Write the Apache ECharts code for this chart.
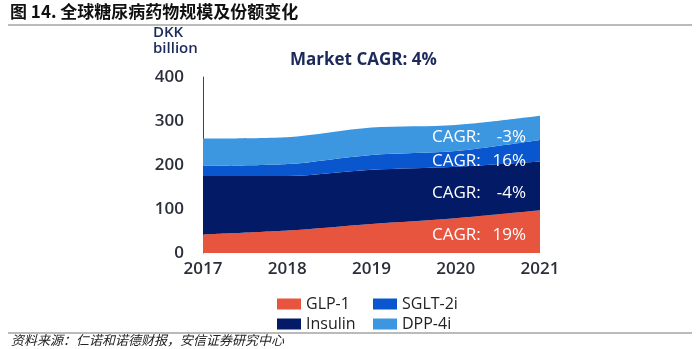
<!DOCTYPE html>
<html><head><meta charset="utf-8">
<script src="https://cdn.jsdelivr.net/npm/echarts@6/dist/echarts.min.js"></script>
<style>html,body{margin:0;padding:0;background:#fff}#c{width:700px;height:349px}</style>
</head><body><div id="c"></div>
<script>
const years = ['2017','2018','2019','2020','2021'];
const glp1 = [42, 51, 66, 79, 97];
const insulin = [133, 124, 123, 117, 111];
const sglt2 = [23, 27, 34, 36, 49];
const dpp4 = [62, 61, 62, 59, 55];
const yTicks = [0, 100, 200, 300, 400];
const cagrValues = ['-3%', '16%', '-4%', '19%'];

const colors = {glp:'#E8553F', ins:'#031A66', sglt:'#0A56CE', dpp:'#3D96E0'};
const chart = echarts.init(document.getElementById('c'), null, {renderer:'canvas'});
const font = '"Open Sans", "Noto Sans", sans-serif';
function area(name, data, color){
  return {name, type:'line', stack:'t', data, symbol:'none', smooth:0.3,
    lineStyle:{width:0}, areaStyle:{color, opacity:1}, itemStyle:{color}};
}
const labelYs = [137, 161, 193, 235];
const cagrGraphics = [];
cagrValues.forEach((v,i)=>{
  cagrGraphics.push({type:'text', x:432, y:labelYs[i], z:100,
    style:{text:'CAGR:', font:'17px "Open Sans"', fill:'#fff', textVerticalAlign:'middle', textAlign:'left'}});
  cagrGraphics.push({type:'text', x:526, y:labelYs[i], z:100,
    style:{text:v, font:'17px "Open Sans"', fill:'#fff', textVerticalAlign:'middle', textAlign:'right'}});
});
chart.setOption({
  animation:false,
  grid:{left:203, right:160, top:77, bottom:96},
  xAxis:{type:'category', data:years, boundaryGap:false,
    axisLine:{show:false}, axisTick:{show:false},
    axisLabel:{color:'#2a2f3a', fontSize:17, fontFamily:font, margin:8, fontWeight:600}},
  yAxis:{type:'value', min:yTicks[0], max:yTicks[yTicks.length-1], interval:100,
    axisLine:{show:true, lineStyle:{color:'#444', width:1}}, axisTick:{show:false},
    splitLine:{show:false},
    axisLabel:{color:'#2a2f3a', fontSize:17, fontFamily:font, margin:19, fontWeight:600}},
  legend:[
    {data:['GLP-1','Insulin'], orient:'vertical', left:272, top:291, itemWidth:24, itemHeight:11, itemGap:4,
      textStyle:{fontSize:16, color:'#222', fontFamily:font}, icon:'rect'},
    {data:['SGLT-2i','DPP-4i'], orient:'vertical', left:368, top:291, itemWidth:24, itemHeight:11, itemGap:4,
      textStyle:{fontSize:16, color:'#222', fontFamily:font}, icon:'rect'}
  ],
  series:[
    area('GLP-1', glp1, colors.glp),
    area('Insulin', insulin, colors.ins),
    area('SGLT-2i', sglt2, colors.sglt),
    area('DPP-4i', dpp4, colors.dpp)
  ],
  graphic:[
    {type:'text', left:10, top:3, z:100, style:{text:'图 14. 全球糖尿病药物规模及份额变化', font:'bold 17px "Noto Sans CJK SC"', fill:'#111'}},
    {type:'line', z:100, shape:{x1:8, y1:25, x2:692, y2:25}, style:{stroke:'#777', lineWidth:1}},
    {type:'line', z:100, shape:{x1:8, y1:333, x2:692, y2:333}, style:{stroke:'#777', lineWidth:1}},
    {type:'text', left:11, top:334, z:100, style:{text:'资料来源：仁诺和诺德财报，安信证券研究中心', font:'italic 13px "Noto Sans CJK SC"', fill:'#222'}},
    {type:'text', left:153, top:25, z:100, style:{text:'DKK\nbillion', font:'600 15px "Open Sans"', fill:'#1B2A5A', lineHeight:16}},
    {type:'text', left:290, top:52, z:100, style:{text:'Market CAGR: 4%', font:'bold 17px "Open Sans"', fill:'#1B2A5A'}}
  ].concat(cagrGraphics)
});
</script></body></html>
